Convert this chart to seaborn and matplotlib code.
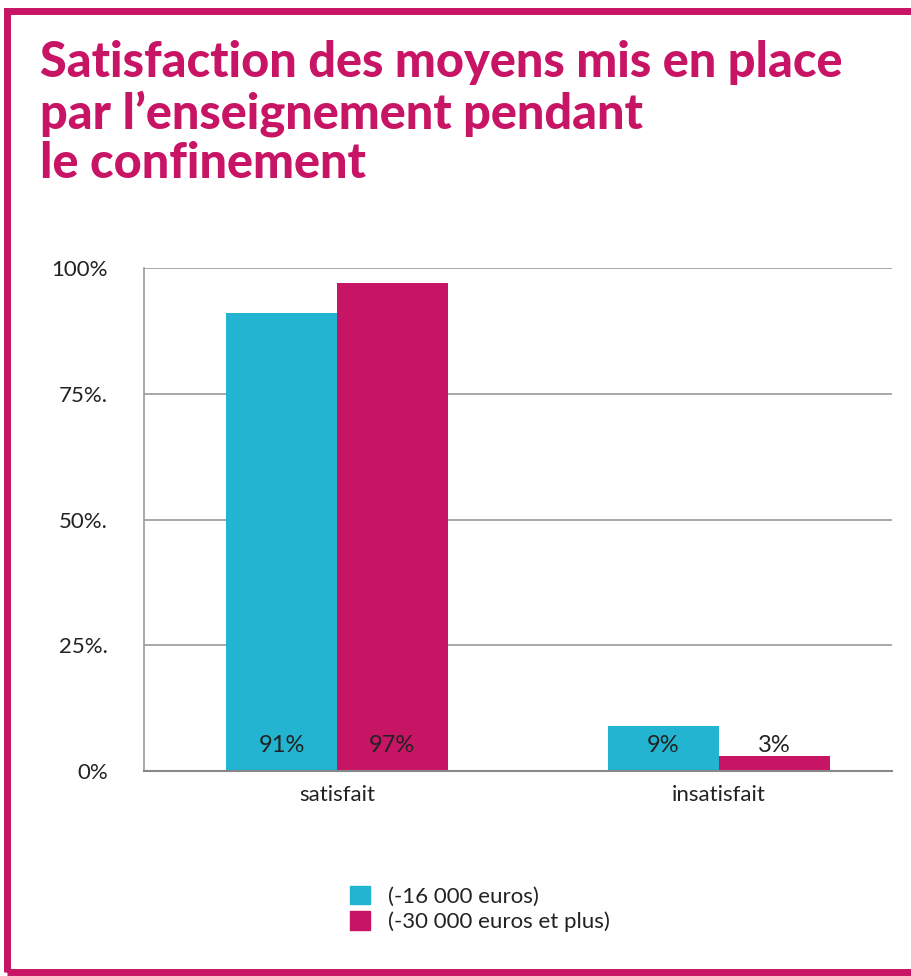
import matplotlib
matplotlib.use('Agg')

import seaborn as sns
import matplotlib.pyplot as plt
import pandas as pd
from matplotlib.patches import Rectangle

# --- Données ---
categories = ['satisfait', 'insatisfait']
groups = ['(-16 000 euros)', '(-30 000 euros et plus)']
values_low = [91, 9]
values_high = [97, 3]
ytick_values = [0, 25, 50, 75, 100]
ytick_labels = ['0%', '25%.', '50%.', '75%.', '100%']

cyan = '#22B4D0'
magenta = '#C81464'

df = pd.DataFrame({
    'categorie': categories * 2,
    'groupe': [groups[0]] * 2 + [groups[1]] * 2,
    'valeur': values_low + values_high,
})

sns.set_style('white')
plt.rcParams['font.family'] = ['Lato', 'DejaVu Sans']

fig = plt.figure(figsize=(9.11, 9.76), dpi=100)
ax = fig.add_axes([144 / 911, 1 - 771 / 976, 748 / 911, 503 / 976])

sns.barplot(data=df, x='categorie', y='valeur', hue='groupe',
            palette=[cyan, magenta], width=0.58, saturation=1,
            linewidth=0, ax=ax, legend=False)

# --- Étiquettes des barres ---
for cont, vals in zip(ax.containers, [values_low, values_high]):
    for bar, v in zip(cont, vals):
        ax.text(bar.get_x() + bar.get_width() / 2, 5, f'{v}%',
                ha='center', va='center', fontsize=17, color='#222222')

ax.set_ylim(0, 100)
ax.set_xlim(-0.505, 1.453)
ax.set_yticks(ytick_values)
ax.set_yticklabels(ytick_labels, fontsize=16, color='#222222')
ax.tick_params(axis='x', labelsize=16, colors='#222222', length=0, pad=10)
ax.tick_params(axis='y', length=0, pad=26)
ax.set_xlabel('')
ax.set_ylabel('')
ax.yaxis.grid(True, color='#999999', linewidth=1.2)
ax.set_axisbelow(True)
for s in ['top', 'right']:
    ax.spines[s].set_visible(False)
ax.spines['left'].set_color('#999999')
ax.spines['left'].set_linewidth(1.2)
ax.spines['bottom'].set_color('#888888')
ax.spines['bottom'].set_linewidth(1.5)

# --- Légende ---
handles = [Rectangle((0, 0), 1, 1, color=c) for c in [cyan, magenta]]
fig.legend(handles, groups, loc='upper left',
           bbox_to_anchor=(330 / 911, 1 - 866 / 976), frameon=False,
           fontsize=16, handlelength=0.9, handleheight=0.9,
           handletextpad=0.8, labelspacing=0.2, labelcolor='#222222')

# --- Titre ---
fig.text(40 / 911, 1 - 40 / 976,
         'Satisfaction des moyens mis en place\npar l\u2019enseignement pendant\nle confinement',
         ha='left', va='top', fontsize=35, fontweight='black', color=magenta,
         linespacing=1.12)

# --- Cadre ---
fig.patches.append(Rectangle((6.5 / 911, 4 / 976), 1.2, 1 - 15 / 976,
                             transform=fig.transFigure, fill=False,
                             edgecolor=magenta, linewidth=5, clip_on=False))

fig.savefig('out.png', dpi=100)
plt.close(fig)
